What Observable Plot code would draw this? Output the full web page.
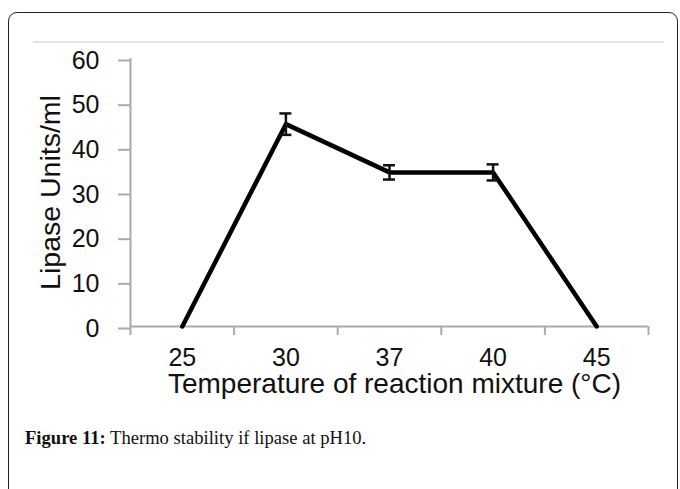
<!DOCTYPE html>
<html>
<head>
<meta charset="utf-8">
<script src="https://cdn.jsdelivr.net/npm/d3@7"></script>
<script src="https://cdn.jsdelivr.net/npm/@observablehq/plot@0.6"></script>
<style>
  html, body { margin: 0; padding: 0; background: #fff; }
  #page { position: relative; width: 680px; height: 489px; overflow: hidden; }
  #frame { position: absolute; left: 8px; top: 12px; width: 668px; height: 600px;
           border: 1.5px solid #222; border-radius: 9px; }
  #topline { position: absolute; left: 33px; top: 41px; width: 631px; height: 0;
             border-top: 2.5px solid #e2e2e2; }
  #chart { position: absolute; left: 0; top: 0; }
  #caption { position: absolute; left: 25px; top: 429px; font-family: "Liberation Serif", "Times New Roman", serif;
             font-size: 18.6px; line-height: 1; color: #111; white-space: nowrap; }
</style>
</head>
<body>
<div id="page">
  <div id="frame"></div>
  <div id="topline"></div>
  <div id="chart"></div>
  <div id="caption"><b>Figure 11:</b> Thermo stability if lipase at pH10.</div>
</div>
<script>
// Data
const temps = ["25", "30", "37", "40", "45"];          // category labels (°C)
const lipase = [0, 45.3, 34.5, 34.5, 0];               // Lipase Units/ml
const errors = [0, 2.4, 1.6, 1.8, 0];                  // error bar half-length
const yTicks = [0, 10, 20, 30, 40, 50, 60];
const xTitle = "Temperature of reaction mixture (°C)";
const yTitle = "Lipase Units/ml";

const data = temps.map((t, k) => ({pos: k + 0.5, t, v: lipase[k], e: errors[k]}));
const withErr = data.filter(d => d.e > 0);
const catPos = data.map(d => d.pos);
const bounds = d3.range(temps.length + 1);

const chart = Plot.plot({
  width: 680,
  height: 410,
  marginLeft: 130,
  marginRight: 32,
  marginTop: 58,
  marginBottom: 84,
  style: {fontFamily: "'Liberation Sans', Arial, sans-serif", background: "transparent", color: "#111", overflow: "visible"},
  x: {domain: [0, temps.length]},
  y: {domain: [0, 60]},
  marks: [
    Plot.ruleX([0], {stroke: "#aaa", strokeWidth: 2}),
    Plot.ruleY([0], {stroke: "#aaa", strokeWidth: 2}),
    Plot.axisY({ticks: yTicks, tickSize: 12, tickPadding: 19, fontSize: 25, stroke: "#aaa", strokeWidth: 2, dy: 2, label: null}),
    Plot.axisX({ticks: bounds, tickSize: 9, tickFormat: () => "", stroke: "#aaa", strokeWidth: 2, label: null}),
    Plot.axisX({ticks: catPos, tickSize: 0, tickPadding: 22, fontSize: 25, tickFormat: d => temps[Math.round(d - 0.5)], label: null}),
    Plot.text([xTitle], {text: d => d, frameAnchor: "bottom", textAnchor: "middle", dx: 5, dy: 66, fontSize: 28}),
    Plot.text([yTitle], {text: d => d, frameAnchor: "left", textAnchor: "middle", rotate: -90, dx: -80, fontSize: 28.5}),
    Plot.line(data, {x: "pos", y: "v", stroke: "#000", strokeWidth: 4.5, strokeLinejoin: "round"}),
    Plot.ruleX(withErr, {x: "pos", y1: d => d.v - d.e, y2: d => d.v + d.e, stroke: "#111", strokeWidth: 2.5}),
    Plot.ruleY(withErr, {y: d => d.v + d.e, x1: "pos", x2: "pos", insetLeft: -6, insetRight: -6, stroke: "#111", strokeWidth: 2.5}),
    Plot.ruleY(withErr, {y: d => d.v - d.e, x1: "pos", x2: "pos", insetLeft: -6, insetRight: -6, stroke: "#111", strokeWidth: 2.5})
  ]
});
document.getElementById("chart").appendChild(chart);
</script>
</body>
</html>
